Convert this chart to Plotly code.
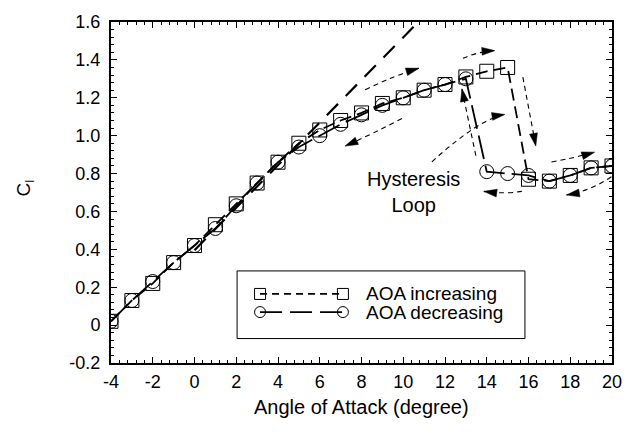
import math
import numpy as np
import plotly.graph_objects as go

# Lift coefficient vs angle of attack, sweep up and sweep down
aoa = [-4, -3, -2, -1, 0, 1, 2, 3, 4, 5, 6, 7, 8, 9, 10, 11, 12, 13, 14, 15, 16, 17, 18, 19, 20]
cl_increasing = [0.02, 0.13, 0.22, 0.33, 0.42, 0.53, 0.64, 0.75, 0.86, 0.96, 1.03, 1.08, 1.12,
                 1.17, 1.20, 1.24, 1.27, 1.31, 1.34, 1.36, 0.77, 0.76, 0.79, 0.83, 0.84]
cl_decreasing = [0.02, 0.13, 0.23, 0.33, 0.42, 0.51, 0.63, 0.75, 0.86, 0.94, 1.00, 1.06, 1.11,
                 1.16, 1.20, 1.24, 1.27, 1.30, 0.81, 0.80, 0.79, 0.76, 0.79, 0.83, 0.84]

# Linear (inviscid) lift line
theory_aoa = [0.0, 10.72]
theory_cl = [0.395, 1.60]

x_ticks = [-4, -2, 0, 2, 4, 6, 8, 10, 12, 14, 16, 18, 20]
x_ticktext = ["-4", "-2", "0", "2", "4", "6", "8", "10", "12", "14", "16", "18", "20"]
y_ticks = [-0.2, 0.0, 0.2, 0.4, 0.6, 0.8, 1.0, 1.2, 1.4, 1.6]
y_ticktext = ["-0.2", "0", "0.2", "0.4", "0.6", "0.8", "1.0", "1.2", "1.4", "1.6"]

X_RANGE = [-4, 20]
Y_RANGE = [-0.2, 1.6]
W, H = 635, 435
MARGIN = dict(l=111, r=23, t=15, b=72)
FONT = "Liberation Sans, Arial, Helvetica, sans-serif"

# pixels per data unit (used to shape the arrowheads)
KX = (W - MARGIN["l"] - MARGIN["r"]) / (X_RANGE[1] - X_RANGE[0])
KY = (H - MARGIN["t"] - MARGIN["b"]) / (Y_RANGE[1] - Y_RANGE[0])

fig = go.Figure()

fig.add_trace(go.Scatter(
    x=theory_aoa, y=theory_cl, mode="lines",
    line=dict(color="black", width=2.2, dash="16px,11px"),
    showlegend=False, hoverinfo="skip"))

fig.add_trace(go.Scatter(
    x=aoa, y=cl_increasing, mode="lines+markers", name="AOA increasing",
    line=dict(color="black", width=1.8, dash="12px,6px"),
    marker=dict(symbol="square-open", size=14, color="black", line=dict(width=1)),
    showlegend=False))

fig.add_trace(go.Scatter(
    x=aoa, y=cl_decreasing, mode="lines+markers", name="AOA decreasing",
    line=dict(color="black", width=1.8, dash="24px,7px"),
    marker=dict(symbol="circle-open", size=14, color="black", line=dict(width=1)),
    showlegend=False))

shapes = []


def curved_arrow(start, ctrl, tip, head_len=13, head_w=8):
    (x0, y0), (xc, yc), (x1, y1) = start, ctrl, tip
    shapes.append(dict(
        type="path", xref="x", yref="y",
        path=f"M{x0},{y0} Q{xc},{yc} {x1},{y1}",
        line=dict(color="black", width=1.1, dash="5px,4px")))
    dx, dy = (x1 - xc) * KX, (y1 - yc) * KY
    n = math.hypot(dx, dy)
    ux, uy = dx / n, dy / n
    bx, by = -ux * head_len, -uy * head_len
    px_, py_ = -uy * head_w / 2, ux * head_w / 2
    pts = [(x1, y1),
           (x1 + (bx + px_) / KX, y1 + (by + py_) / KY),
           (x1 + (bx - px_) / KX, y1 + (by - py_) / KY)]
    path = "M" + " L".join(f"{a},{b}" for a, b in pts) + " Z"
    shapes.append(dict(type="path", xref="x", yref="y", path=path,
                       fillcolor="black", line=dict(color="black", width=0.5)))


curved_arrow((8.17, 1.242), (9.60, 1.319), (10.75, 1.356))
curved_arrow((9.94, 1.091), (8.50, 1.008), (7.21, 0.945))
curved_arrow((12.86, 1.408), (13.57, 1.444), (14.39, 1.449))
curved_arrow((11.37, 0.862), (13.67, 1.091), (14.87, 1.112))
curved_arrow((13.48, 0.894), (13.14, 1.070), (12.81, 1.247))
curved_arrow((15.73, 1.309), (16.04, 1.127), (16.35, 0.945))
curved_arrow((15.68, 0.706), (14.87, 0.691), (13.86, 0.706))
curved_arrow((17.10, 0.861), (18.22, 0.883), (19.17, 0.913))
curved_arrow((19.97, 0.783), (18.93, 0.706), (17.82, 0.687))

# legend box drawn by hand: marker at both ends of a line sample
shapes.append(dict(type="rect", xref="x", yref="y", x0=2.04, x1=15.83, y0=-0.071, y1=0.286,
                   line=dict(color="black", width=1), fillcolor="white", layer="above"))
legend_rows = [
    ("AOA increasing", 0.1645, "rect", "7px,5px"),
    ("AOA decreasing", 0.0688, "circle", "22px,8px"),
]
for label, yy, kind, dash in legend_rows:
    shapes.append(dict(type="line", xref="x", yref="y", x0=3.14, x1=7.11, y0=yy, y1=yy,
                       line=dict(color="black", width=1.8, dash=dash)))
    for xx in (3.14, 7.11):
        shapes.append(dict(type=kind, xref="x", yref="y", xsizemode="pixel", ysizemode="pixel",
                           xanchor=xx, yanchor=yy, x0=-5.5, x1=5.5, y0=-5.5, y1=5.5,
                           line=dict(color="black", width=1)))
    fig.add_annotation(x=8.12, y=yy, xref="x", yref="y", text=label, showarrow=False,
                       xanchor="left", yanchor="middle", font=dict(size=19, color="black"))

fig.add_annotation(x=10.47, y=0.705, xref="x", yref="y", text="Hysteresis<br>Loop",
                   showarrow=False, xanchor="center", yanchor="middle", align="center",
                   font=dict(size=20, color="black"))

# axis titles
fig.add_annotation(x=0.5, y=-0.128, xref="paper", yref="paper", text="Angle of Attack (degree)",
                   showarrow=False, xanchor="center", yanchor="middle",
                   font=dict(size=20, color="black"))
fig.add_annotation(x=-0.172, y=0.514, xref="paper", yref="paper", text="C<sub>l</sub>",
                   showarrow=False, xanchor="center", yanchor="middle", textangle=-90,
                   font=dict(size=19, color="black"))

axis_common = dict(
    showgrid=False, zeroline=False, showline=True, linewidth=2, linecolor="black",
    mirror="allticks", ticks="inside", ticklen=6, tickwidth=1, tickcolor="black",
    tickfont=dict(size=18, color="black"),
)

fig.update_layout(
    width=W, height=H, margin=MARGIN,
    paper_bgcolor="white", plot_bgcolor="white",
    font=dict(family=FONT, color="black"),
    shapes=shapes, showlegend=False,
    xaxis=dict(range=X_RANGE, tickmode="array", tickvals=x_ticks, ticktext=x_ticktext,
               ticklabelstandoff=1,
               minor=dict(tickmode="array", tickvals=list(np.round(np.arange(-4, 20.01, 0.4), 2)),
                          ticks="inside", ticklen=3, tickwidth=1, tickcolor="black", showgrid=False),
               **axis_common),
    yaxis=dict(range=Y_RANGE, tickmode="array", tickvals=y_ticks, ticktext=y_ticktext,
               ticklabelstandoff=5,
               minor=dict(tickmode="array", tickvals=list(np.round(np.arange(-0.2, 1.601, 0.04), 2)),
                          ticks="inside", ticklen=3, tickwidth=1, tickcolor="black", showgrid=False),
               **axis_common),
)

fig.write_html("out.html")
